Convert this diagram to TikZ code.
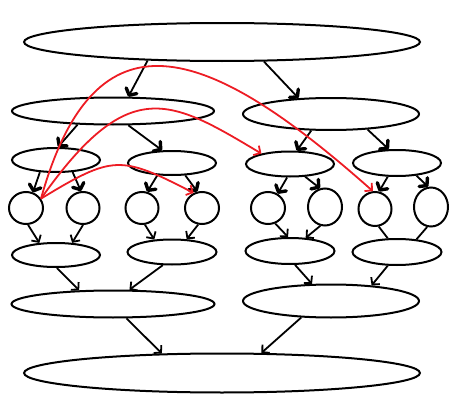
\documentclass[tikz,border=0pt]{standalone}
\usetikzlibrary{arrows.meta,shapes.geometric}
\definecolor{myred}{RGB}{237,28,36}
\begin{document}
\begin{tikzpicture}[x=1pt,y=-1pt,
  ell/.style 2 args={draw,ellipse,inner sep=0pt,line width=2pt,minimum width=#1,minimum height=#2},
  boldedge/.style={line width=1.8pt,-{Straight Barb[length=5pt,width=12pt,line width=3.4pt,round]}},
  thinedge/.style={line width=1.8pt,-{Straight Barb[length=5pt,width=11pt]}},
  plainedge/.style={line width=1.8pt},
  rededge/.style={line width=1.8pt,draw=myred,-{Straight Barb[length=5pt,width=11pt]}}]
\useasboundingbox (0,0) rectangle (456,415);
% nodes
\node[ell={396pt}{38pt}] (top) at (222,42) {};
\node[ell={202pt}{27pt}] (l2a) at (113,111) {};
\node[ell={176pt}{32pt}] (l2b) at (331,114) {};
\node[ell={88pt}{24pt}] (l3a) at (56,160) {};
\node[ell={88pt}{24pt}] (l3b) at (172,163) {};
\node[ell={88pt}{25pt}] (l3c) at (290,164) {};
\node[ell={88pt}{26pt}] (l3d) at (397,163) {};
\node[ell={34pt}{32pt}] (c1) at (26,208) {};
\node[ell={33pt}{32pt}] (c2) at (83,208) {};
\node[ell={33pt}{32pt}] (c3) at (142,208) {};
\node[ell={34pt}{32pt}] (c4) at (202,208) {};
\node[ell={34pt}{32pt}] (c5) at (268,208) {};
\node[ell={34pt}{37pt}] (c6) at (325,207) {};
\node[ell={33pt}{34pt}] (c7) at (375,209) {};
\node[ell={34pt}{39pt}] (c8) at (431,207) {};
\node[ell={88pt}{24pt}] (l5a) at (56,255) {};
\node[ell={89pt}{25pt}] (l5b) at (172,252) {};
\node[ell={89pt}{26pt}] (l5c) at (290,251) {};
\node[ell={89pt}{26pt}] (l5d) at (397,252) {};
\node[ell={203pt}{27pt}] (l6a) at (113,304) {};
\node[ell={176pt}{33pt}] (l6b) at (331,301) {};
\node[ell={396pt}{39pt}] (bot) at (222,373) {};
% bold-headed edges
\draw[boldedge] (top.194) -- (l2a.43);
\draw[boldedge] (top.335) -- (l2b.154);
\draw[boldedge] (l2a.201) -- (l3a.81);
\draw[boldedge] (l2a.317) -- (l3b.128);
\draw[boldedge] (l2b.220) -- (l3c.63);
\draw[boldedge] (l2b.337) -- (l3d.121);
\draw[boldedge] (l3a.217) -- (c1.66);
\draw[boldedge] (l3a.324) -- (c2.97);
\draw[boldedge] (l3b.220) -- (c3.72);
\draw[boldedge] (l3b.317) -- (c4.106);
\draw[boldedge] (l3c.258) -- (c5.56);
\draw[boldedge] (l3c.320) -- (c6.105);
\draw[boldedge] (l3d.236) -- (c7.77);
\draw[boldedge] (l3d.327) -- (c8.98);
% thin-headed edges
\draw[thinedge] (c1.277) -- (l5a.144);
\draw[thinedge] (c2.270) -- (l5a.37);
\draw[thinedge] (c3.280) -- (l5b.145);
\draw[thinedge] (c4.257) -- (l5b.41);
\draw[thinedge] (c5.295) -- (l5c.98);
\draw[thinedge] (c6.256) -- (l5c.40);
\draw[plainedge] (c7.282) -- (l5d.124);
\draw[plainedge] (c8.259) -- (l5d.33);
\draw[thinedge] (l5a.274) -- (l6a.158);
\draw[thinedge] (l5b.235) -- (l6a.41);
\draw[thinedge] (l5c.290) -- (l6b.138);
\draw[thinedge] (l5d.236) -- (l6b.21);
\draw[thinedge] (l6a.313) -- (bot.162);
\draw[thinedge] (l6b.209) -- (bot.27);
% red curves
\draw[rededge] (c1.32) .. controls (95,5) and (205,42) .. (c7.97);
\draw[rededge] (c1.32) .. controls (129,74) and (170,99) .. (l3c.160);
\draw[rededge] (c1.32) .. controls (113,155) and (120,155) .. (c4.119);
\end{tikzpicture}
\end{document}
